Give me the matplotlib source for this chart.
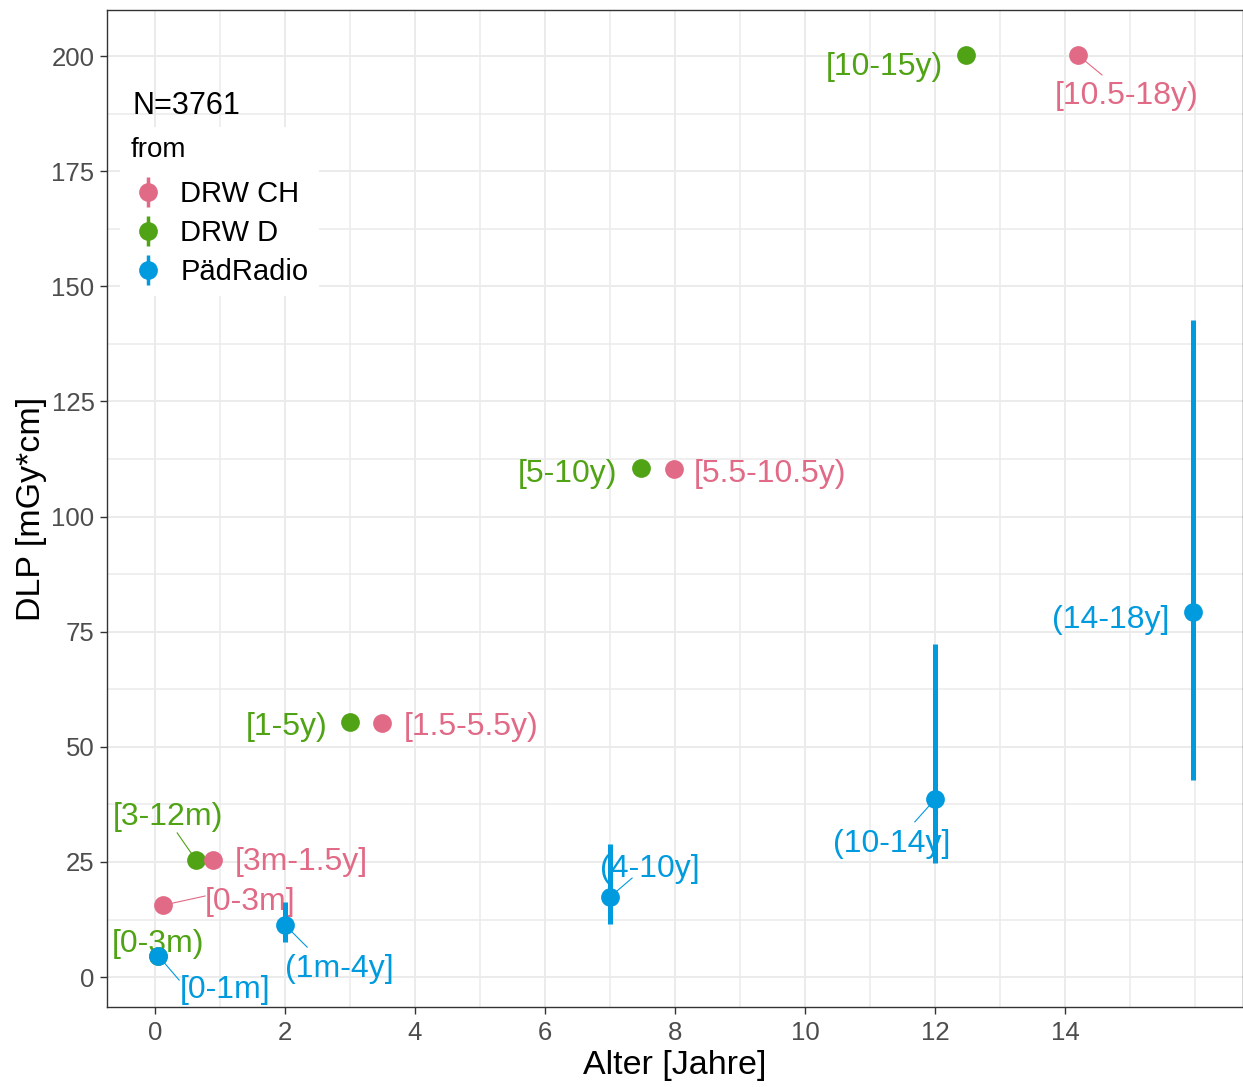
import matplotlib
matplotlib.use("Agg")
import matplotlib.pyplot as plt
from matplotlib.lines import Line2D
from matplotlib.legend_handler import HandlerTuple

plt.rcParams['font.family'] = ['Liberation Sans', 'DejaVu Sans']

# ---------------- data ----------------
groups = ["DRW CH", "DRW D", "PädRadio"]
colors = ["#E16A86", "#50A315", "#009ADE"]

age_ch = [0.12, 0.89, 3.49, 7.98, 14.2]
dlp_ch = [15.6, 25.4, 55.2, 110.3, 200.2]
lab_ch = ["[0-3m]", "[3m-1.5y]", "[1.5-5.5y)", "[5.5-10.5y)", "[10.5-18y)"]

age_d = [0.04, 0.63, 3.0, 7.48, 12.48]
dlp_d = [4.5, 25.4, 55.4, 110.5, 200.2]
lab_d = ["[0-3m)", "[3-12m)", "[1-5y)", "[5-10y)", "[10-15y)"]

age_p = [0.05, 2.0, 7.0, 12.0, 15.97]
dlp_p = [4.6, 11.3, 17.4, 38.6, 79.3]
lo_p = [3.5, 7.6, 11.5, 24.8, 42.8]
hi_p = [5.7, 16.3, 28.9, 72.3, 142.7]
lab_p = ["[0-1m]", "(1m-4y]", "(4-10y]", "(10-14y]", "(14-18y]"]

n_text = "N=3761"
xticks = [0, 2, 4, 6, 8, 10, 12, 14]
yticks = [0, 25, 50, 75, 100, 125, 150, 175, 200]

# label placement (repelled positions)
lpos_ch = [(1.46, 16.2), (2.25, 24.9), (4.86, 54.2), (9.46, 109.2), (14.95, 191.4)]
lpos_d = [(0.05, 7.1), (0.20, 34.7), (2.03, 54.2), (6.35, 109.2), (11.22, 197.7)]
lpos_p = [(1.08, -2.9), (2.83, 1.7), (7.62, 23.4), (11.34, 28.8), (14.71, 77.5)]
seg_ch = {0: (0.77, 17.6), 4: (14.57, 195.9)}
seg_d = {1: (0.34, 31.3)}
seg_p = {0: (0.37, -0.65), 1: (2.34, 6.5), 2: (7.34, 21.5), 3: (11.69, 33.7)}

# ---------------- figure ----------------
W, H = 1243, 1087
fig = plt.figure(figsize=(W / 100, H / 100), dpi=100)
ax = fig.add_axes([107 / W, 1 - 1007 / H, (1243 - 107) / W, (1007 - 10) / H])

ax.set_xlim(-0.74, 16.74)
ax.set_ylim(-6.5, 210.0)

# grid
for v in [1, 3, 5, 7, 9, 11, 13, 15, 16]:
    ax.axvline(v, color="#EBEBEB", lw=1.1, zorder=0)
for v in xticks:
    ax.axvline(v, color="#EBEBEB", lw=1.4, zorder=0)
for v in [12.5, 37.5, 62.5, 87.5, 112.5, 137.5, 162.5, 187.5]:
    ax.axhline(v, color="#EBEBEB", lw=1.1, zorder=0)
for v in yticks:
    ax.axhline(v, color="#EBEBEB", lw=1.4, zorder=0)

ms = 13.5
lw_err = 3.6

def draw_group(xs, ys, labs, lpos, segs, col, z):
    for i, (x, y) in enumerate(zip(xs, ys)):
        if i in segs:
            ex, ey = segs[i]
            ax.plot([x, ex], [y, ey], color=col, lw=0.8, zorder=z - 0.5)
        lx, ly = lpos[i]
        ax.text(lx, ly, labs[i], color=col, fontsize=23, ha="center", va="center", zorder=z + 1)
    ax.plot(xs, ys, "o", color=col, ms=ms, mec="none", zorder=z)

draw_group(age_d, dlp_d, lab_d, lpos_d, seg_d, colors[1], 3)
draw_group(age_ch, dlp_ch, lab_ch, lpos_ch, seg_ch, colors[0], 4)
ax.vlines(age_p, lo_p, hi_p, color=colors[2], lw=lw_err, zorder=5)
draw_group(age_p, dlp_p, lab_p, lpos_p, seg_p, colors[2], 5)

# axes styling
for s in ax.spines.values():
    s.set_color("#333333")
    s.set_linewidth(1.0)
ax.set_xticks(xticks)
ax.set_yticks(yticks)
ax.tick_params(axis="both", colors="#333333", length=5, width=1.0, labelsize=18.5,
               labelcolor="#4D4D4D")
ax.tick_params(axis="x", pad=5)
ax.tick_params(axis="y", pad=4)
ax.set_xlabel("Alter [Jahre]", fontsize=24.5, labelpad=4)
ax.set_ylabel("DLP [mGy*cm]", fontsize=24.5, labelpad=3)

# N annotation
ax.text(-0.34, 189.2, n_text, fontsize=22, ha="left", va="center", color="black", zorder=10)

# legend
handles = []
for c in colors:
    bar = Line2D([], [], marker="|", ms=22, mew=2.5, color=c, linestyle="none")
    dot = Line2D([], [], marker="o", ms=ms, color=c, mec="none", linestyle="none")
    handles.append((bar, dot))
leg = ax.legend(handles, groups, title="from", loc="upper left",
                bbox_to_anchor=(-0.001, 0.897), fontsize=21, title_fontsize=20,
                frameon=True, facecolor="white", edgecolor="none", framealpha=1,
                handlelength=1.2, handletextpad=0.5, labelspacing=0.37,
                borderpad=0.35, alignment="left",
                handler_map={tuple: HandlerTuple(ndivide=1, pad=0)})
leg.get_frame().set_boxstyle("square", pad=0)
leg._legend_box.sep = 12
leg.set_zorder(9)

fig.savefig("out.png", dpi=100)
